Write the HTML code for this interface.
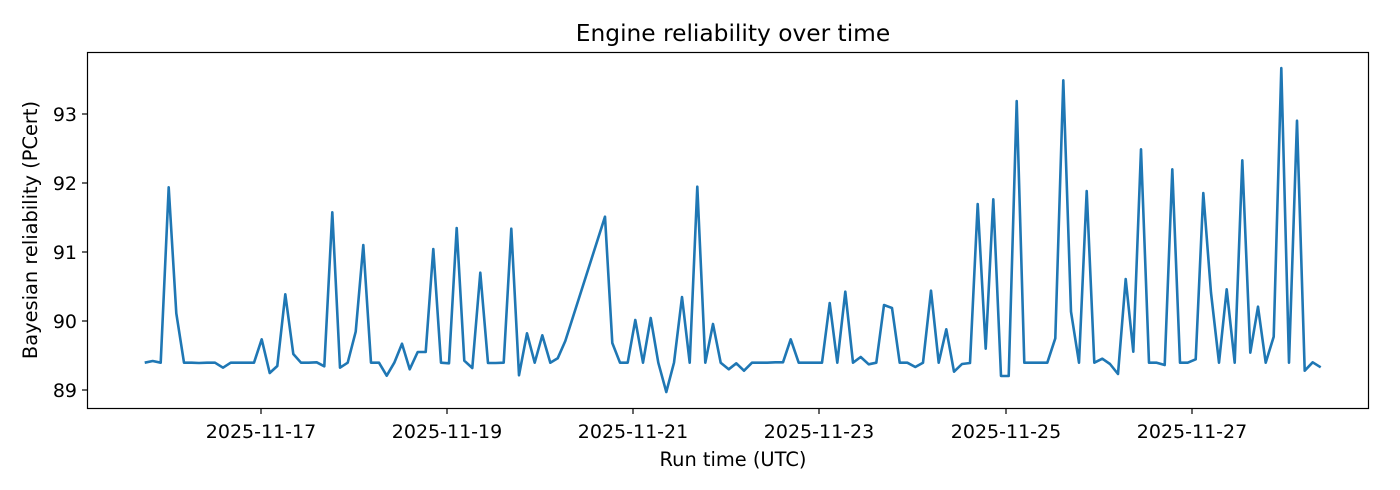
<!DOCTYPE html>
<html><head><meta charset="utf-8"><style>body{margin:0;background:#fff}svg{display:block}text{font-family:"DejaVu Sans","Liberation Sans",sans-serif;fill:#000}</style></head><body>
<svg width="1400" height="490" viewBox="0 0 1400 490">
<rect width="1400" height="490" fill="#fff"/>
<text x="733" y="41" font-size="23.3" text-anchor="middle">Engine reliability over time</text>
<polyline fill="none" stroke="#1f77b4" stroke-width="2.6" stroke-linejoin="round" points="144.7,362.7 152.7,361 160.7,362.7 168.7,187.3 176.3,313.3 184,362.7 191.7,362.7 199,363 207,362.7 215,362.7 223,367.7 230.7,362.7 238.7,362.7 246.3,362.7 254,362.7 261.7,339.3 269.7,373 277.3,366 285.3,294.3 293.3,354 301,362.7 308.7,362.7 316.7,362.3 324.3,366.3 332.3,212.3 340,367.7 347.7,362.7 355.7,331.7 363.3,245 371,362.7 379,362.7 386.7,375.7 394.3,362.7 402,343.7 409.7,369.3 417.7,352 425.7,352 433.3,249 441,362.7 449,363.3 456.7,228 464.3,360.7 472.3,368 480.3,272.7 488,363 495.7,363 503.7,362.7 511.3,228.7 519,375.3 527,333.3 534.7,362.7 542.3,335.3 550.3,362.7 557.7,358.3 565.3,341 605,216.7 612.3,343 620,362.7 627.7,362.7 635.3,320 643,362.7 650.7,318 658.3,362.7 666.3,392 674,362.7 682,297 689.7,362.7 697.3,186.7 705.3,362.7 713,324 720.7,362.7 728.7,369.3 736.3,363.3 744,370.7 752,362.7 759.7,362.7 767.3,362.7 775.3,362.3 783,362.3 790.7,339.3 798.7,362.7 806.3,362.7 814,362.7 822,362.7 829.7,303 837.3,362.7 845.3,291.7 853,362.7 860.7,357 868.7,364.3 876.3,362.7 884,305 892,308 899.7,362.7 907.3,362.7 915.3,367 923,362.7 931,290.7 938.7,362.7 946.3,329.3 954,371.7 962,364 970,363 977.7,204 985.7,348.7 993.3,199.3 1001,376 1008.7,376 1016.7,101 1024.3,362.7 1032,362.7 1039.7,362.7 1047.3,362.7 1055.3,338.3 1063.3,80.3 1071,311.7 1079,362.7 1086.7,191 1094.3,362.7 1102.3,358.7 1110,364 1118,374 1125.7,279 1133.3,351.7 1141,149.3 1149,362.7 1156.7,362.7 1164.7,365 1172.3,169.3 1180,362.7 1187.7,362.7 1195.7,359.3 1203.3,193 1211,292.7 1219,362.7 1226.7,289.3 1234.7,362.7 1242.3,160.3 1250.3,352.7 1258,306.7 1265.7,362.7 1273.7,336.7 1281.3,68 1289,362.7 1297,120.7 1304.7,370.7 1312.7,362.3 1320.7,367.3"/>
<rect x="87.5" y="52.5" width="1281" height="356" fill="none" stroke="#000" stroke-width="1.2"/>
<g stroke="#000" stroke-width="1.2">
<line x1="82" y1="390" x2="87" y2="390"/><line x1="82" y1="321" x2="87" y2="321"/><line x1="82" y1="252" x2="87" y2="252"/><line x1="82" y1="183" x2="87" y2="183"/><line x1="82" y1="114" x2="87" y2="114"/>
<line x1="261" y1="409" x2="261" y2="414"/><line x1="447" y1="409" x2="447" y2="414"/><line x1="633" y1="409" x2="633" y2="414"/><line x1="819" y1="409" x2="819" y2="414"/><line x1="1006" y1="409" x2="1006" y2="414"/><line x1="1192" y1="409" x2="1192" y2="414"/>
</g>
<g font-size="19" text-anchor="end">
<text x="77" y="397">89</text><text x="77" y="328">90</text><text x="77" y="259">91</text><text x="77" y="190">92</text><text x="77" y="121">93</text>
</g>
<g font-size="19" text-anchor="middle">
<text x="261" y="438">2025-11-17</text><text x="447" y="438">2025-11-19</text><text x="633" y="438">2025-11-21</text><text x="819" y="438">2025-11-23</text><text x="1006" y="438">2025-11-25</text><text x="1192" y="438">2025-11-27</text>
</g>
<g font-size="19.4" text-anchor="middle">
<text x="733" y="466">Run time (UTC)</text>
<text transform="translate(37,230) rotate(-90)">Bayesian reliability (PCert)</text>
</g>
</svg>
</body></html>
